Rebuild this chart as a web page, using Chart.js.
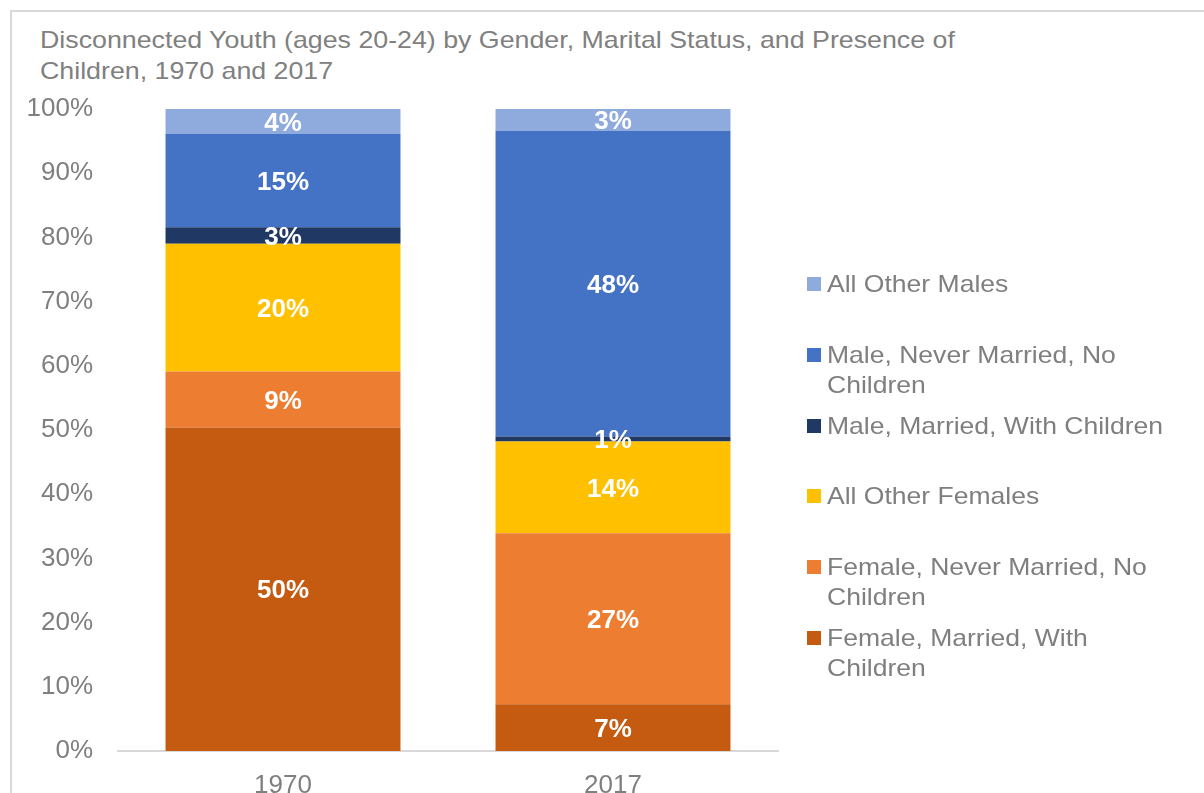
<!DOCTYPE html>
<html>
<head>
<meta charset="utf-8">
<script src="https://cdn.jsdelivr.net/npm/chart.js@4/dist/chart.umd.min.js"></script>
<style>
  html, body { margin: 0; padding: 0; background: #fff; }
  body { width: 1204px; height: 793px; position: relative; overflow: hidden; font-family: "Liberation Sans", Arial, sans-serif; }
  #frame { position: absolute; left: 10px; top: 10px; right: -10px; bottom: -10px; border-left: 2px solid #d9d9d9; border-top: 2px solid #d9d9d9; }
  #title { position: absolute; left: 40px; top: 24px; font-size: 24px; line-height: 31px; color: #808080; white-space: nowrap; transform: scaleX(1.115); transform-origin: 0 0; }
  #chart { position: absolute; left: 0; top: 0; }
  #legend { position: absolute; left: 807px; top: 0; width: 380px; }
  .item { position: absolute; left: 0; width: 380px; font-size: 24px; line-height: 30px; color: #7f7f7f; }
  .item .sw { position: absolute; left: 0; top: 8px; width: 14px; height: 14px; }
  .item .tx { margin-left: 20px; width: 320px; transform: scaleX(1.105); transform-origin: 0 0; }
</style>
</head>
<body>
<div id="frame"></div>
<div id="title">Disconnected Youth (ages 20-24) by Gender, Marital Status, and Presence of<br>Children, 1970 and 2017</div>
<canvas id="chart" width="1204" height="793"></canvas>
<div id="legend"></div>
<script>
const categories = ['1970', '2017'];

const seriesNames = [
  'Female, Married, With Children',
  'Female, Never Married, No Children',
  'All Other Females',
  'Male, Married, With Children',
  'Male, Never Married, No Children',
  'All Other Males'
];

const femaleMarried = [50.4, 7.3];
const femaleNeverMarried = [8.7, 26.6];
const otherFemales = [19.9, 14.3];
const maleMarried = [2.6, 0.8];
const maleNeverMarried = [14.5, 47.6];
const otherMales = [3.9, 3.4];

const yTicks = [0, 10, 20, 30, 40, 50, 60, 70, 80, 90, 100];

const colors = ['#c55a11', '#ed7d31', '#ffc000', '#203864', '#4472c4', '#8faadc'];
const seriesValues = [femaleMarried, femaleNeverMarried, otherFemales, maleMarried, maleNeverMarried, otherMales];

const barLabels = {
  id: 'barLabels',
  afterDatasetsDraw(chart) {
    const ctx = chart.ctx;
    ctx.save();
    ctx.font = 'bold 26px "Liberation Sans", Arial, sans-serif';
    ctx.fillStyle = '#ffffff';
    ctx.textAlign = 'center';
    ctx.textBaseline = 'middle';
    chart.data.datasets.forEach((ds, i) => {
      const meta = chart.getDatasetMeta(i);
      meta.data.forEach((bar, j) => {
        const p = bar.getCenterPoint();
        ctx.fillText(Math.round(ds.data[j]) + '%', p.x, p.y + 2);
      });
    });
    ctx.restore();
  }
};

new Chart(document.getElementById('chart').getContext('2d'), {
  type: 'bar',
  data: {
    labels: categories,
    datasets: seriesNames.map((name, i) => ({
      label: name,
      data: seriesValues[i],
      backgroundColor: colors[i],
      borderWidth: 0,
      categoryPercentage: 1,
      barPercentage: 0.712
    }))
  },
  options: {
    responsive: false,
    animation: false,
    devicePixelRatio: 1,
    layout: { padding: { left: 0, right: 426, top: 109, bottom: 0 } },
    plugins: { legend: { display: false }, tooltip: { enabled: false } },
    scales: {
      x: {
        stacked: true,
        grid: { display: false, drawTicks: false },
        border: { display: true, color: '#d9d9d9', width: 2 },
        ticks: { color: '#7f7f7f', font: { size: 26, family: '"Liberation Sans", Arial, sans-serif' }, padding: 19 },
        afterFit(scale) { scale.height = 42; }
      },
      y: {
        stacked: true,
        min: 0,
        max: 100,
        afterBuildTicks(scale) { scale.ticks = yTicks.map(v => ({ value: v })); },
        grid: { display: false, drawTicks: false },
        border: { display: false },
        ticks: {
          color: '#7f7f7f',
          font: { size: 26, family: '"Liberation Sans", Arial, sans-serif' },
          padding: 25,
          callback: v => v + '%'
        },
        afterFit(scale) { scale.width = 118; }
      }
    }
  },
  plugins: [barLabels]
});

// legend, top item first (reverse of stacking order)
const legend = document.getElementById('legend');
const order = [5, 4, 3, 2, 1, 0];
order.forEach((idx, k) => {
  const item = document.createElement('div');
  item.className = 'item';
  item.style.top = (269 + k * 70.8) + 'px';
  item.innerHTML = '<span class="sw" style="background:' + colors[idx] + '"></span><div class="tx">' + seriesNames[idx] + '</div>';
  legend.appendChild(item);
});
</script>
</body>
</html>
